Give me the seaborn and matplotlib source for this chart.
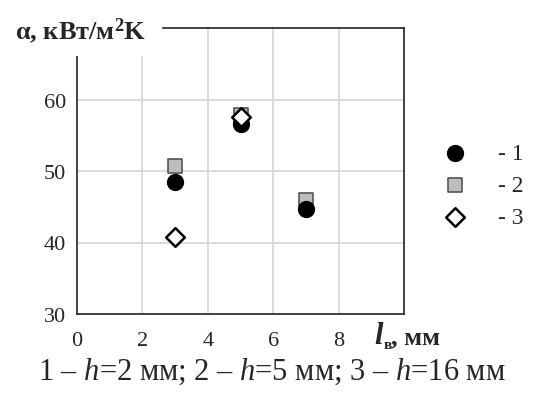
import pandas as pd
import seaborn as sns
import matplotlib.pyplot as plt

# values
x_1 = [3, 5, 7]
alpha_1 = [48.5, 56.6, 44.7]
x_2 = [3, 5, 7]
alpha_2 = [50.7, 57.9, 46.0]
x_3 = [3, 5]
alpha_3 = [40.7, 57.6]
series_labels = ['- 1', '- 2', '- 3']
x_ticks = [0, 2, 4, 6, 8]
y_ticks = [30, 40, 50, 60]

sns.set_style('white')
plt.rcParams['font.family'] = ['Liberation Serif', 'DejaVu Serif']
plt.rcParams['mathtext.fontset'] = 'custom'
plt.rcParams['mathtext.rm'] = 'Liberation Serif'
plt.rcParams['mathtext.it'] = 'Liberation Serif:italic'
plt.rcParams['mathtext.bf'] = 'Liberation Serif:bold'

fig = plt.figure(figsize=(5.4, 4.1), dpi=100)
ax = fig.add_axes([77 / 540, 1 - 315 / 410, (404 - 77) / 540, (315 - 29) / 410])

df1 = pd.DataFrame({'x': x_1, 'a': alpha_1})
df2 = pd.DataFrame({'x': x_2, 'a': alpha_2})
df3 = pd.DataFrame({'x': x_3, 'a': alpha_3})

sns.scatterplot(data=df2, x='x', y='a', ax=ax, marker='s', s=100, color='#bdbdbd',
                edgecolor='#555555', linewidth=1.2, label=series_labels[1], zorder=3)
sns.scatterplot(data=df1, x='x', y='a', ax=ax, marker='o', s=135, color='black',
                edgecolor='black', linewidth=0.8, label=series_labels[0], zorder=4)
sns.scatterplot(data=df3, x='x', y='a', ax=ax, marker='D', s=90, color='white',
                edgecolor='black', linewidth=1.8, label=series_labels[2], zorder=5)

ax.set_xlim(0, 10)
ax.set_ylim(30, 70)
ax.set_xticks(x_ticks)
ax.set_yticks(y_ticks)
ax.set_xlabel('')
ax.set_ylabel('')
ax.tick_params(length=0, labelsize=16)
ax.tick_params(axis='x', pad=12)
ax.tick_params(axis='y', pad=8)

# grid drawn by hand: the line at x=2 starts below the axis title
for y in y_ticks[1:]:
    ax.axhline(y, color='#d9d9d9', linewidth=1.3, zorder=1)
for x in x_ticks[1:]:
    ax.plot([x, x], [30, 66 if x == 2 else 70], color='#d9d9d9', linewidth=1.3, zorder=1)

for s in ax.spines.values():
    s.set_color('#333333')
    s.set_linewidth(1.3)
ax.spines['left'].set_bounds(30, 66)
ax.spines['top'].set_bounds(2.62, 10)

h, l = ax.get_legend_handles_labels()
order = [1, 0, 2]
ax.legend([h[i] for i in order], [l[i] for i in order], frameon=False,
          loc='center left', bbox_to_anchor=(1.055, 0.45), fontsize=17,
          handletextpad=0.8, labelspacing=0.45, borderaxespad=0)

fig.text(15 / 540, 1 - 31 / 410, r'α, кВт/м$^\mathbf{2}$K', fontsize=19, fontweight='bold',
         ha='left', va='center')
fig.text(374 / 540, 1 - 337 / 410, 'l', fontsize=22, fontweight='bold', style='italic',
         ha='left', va='center')
fig.text(384 / 540, 1 - 346 / 410, 'в', fontsize=11, fontweight='bold',
         ha='left', va='center')
fig.text(391 / 540, 1 - 338 / 410, ', мм', fontsize=19, fontweight='bold',
         ha='left', va='center')

fig.text(272 / 540, 1 - 372 / 410, '1 – $h$=2 мм; 2 – $h$=5 мм; 3 – $h$=16 мм',
         fontsize=22, ha='center', va='center')

fig.savefig('out.png', dpi=100)
